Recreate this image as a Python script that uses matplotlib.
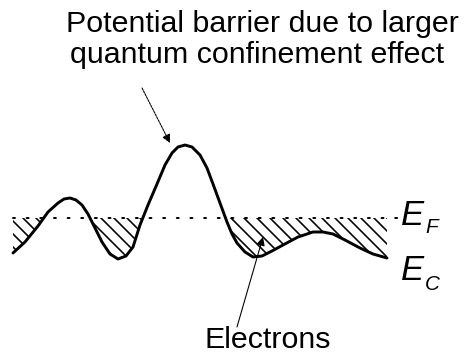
import numpy as np
import matplotlib
matplotlib.use('Agg')
import matplotlib.pyplot as plt

# --- Data (pixel-space coordinates) ---
curve_x = [13, 25, 38, 48, 58, 64, 70, 76, 82, 88, 95, 102, 110, 118, 126, 133, 140,
           148, 157, 165, 172, 178, 185, 192, 200, 207, 213, 220, 227, 232,
           237, 245, 253, 262, 272, 283, 298, 313, 323, 333, 345, 360, 373, 387]
curve_y = [253, 242, 226, 212, 203, 199, 198, 200, 205, 214, 228, 242, 254, 259, 256,
           247, 225, 205, 184, 165, 153, 147, 145, 147, 155, 168, 184, 203,
           222, 234, 243, 252, 257, 256, 251, 245, 237, 232, 232, 234, 240,
           248, 254, 258]
fermi_level = 218
fermi_x = [13, 398]

title_lines = ['Potential barrier due to larger', 'quantum confinement effect']
electrons_label = 'Electrons'

# --- Figure: axes span the whole canvas, data units = pixels ---
DPI = 78
fig = plt.figure(figsize=(472 / DPI, 356 / DPI), dpi=DPI)
ax = fig.add_axes([0, 0, 1, 1])
ax.set_xlim(0, 472)
ax.set_ylim(356, 0)
ax.axis('off')

plt.rcParams['hatch.linewidth'] = 1.5

x = np.array(curve_x, dtype=float)
y = np.array(curve_y, dtype=float)

# electrons: hatched between E_F and the band edge where the band is below E_F
ax.fill_between(x, fermi_level, y, where=y > fermi_level, interpolate=True,
                facecolor='none', edgecolor='black', hatch='\\\\', linewidth=0)

ax.plot(fermi_x, [fermi_level, fermi_level], color='black', lw=1.8,
        linestyle=(0, (1, 6)), dash_capstyle='round')
ax.plot(x, y, color='black', lw=2.7, solid_capstyle='round', solid_joinstyle='round')

font = 'Liberation Sans'
ax.text(262, 32, title_lines[0], fontsize=28, family=font, ha='center', va='baseline')
ax.text(257, 63, title_lines[1], fontsize=28, family=font, ha='center', va='baseline')

ax.annotate('', xy=(170, 143), xytext=(142, 88),
            arrowprops=dict(arrowstyle='-|>', color='black', lw=1,
                            linestyle=(0, (2, 1)), mutation_scale=16,
                            shrinkA=0, shrinkB=0))
ax.annotate('', xy=(263, 237), xytext=(237, 327),
            arrowprops=dict(arrowstyle='-|>', color='black', lw=1,
                            mutation_scale=16, shrinkA=0, shrinkB=0))
ax.text(268, 348, electrons_label, fontsize=28, family=font, ha='center', va='baseline')

# band labels
ax.text(401, 225, 'E', fontsize=32, family=font, style='italic', va='baseline')
ax.text(425, 233, 'F', fontsize=19, family=font, style='italic', va='baseline')
ax.text(401, 280, 'E', fontsize=32, family=font, style='italic', va='baseline')
ax.text(425, 290, 'C', fontsize=19, family=font, style='italic', va='baseline')

fig.savefig('out.png', dpi=DPI)
